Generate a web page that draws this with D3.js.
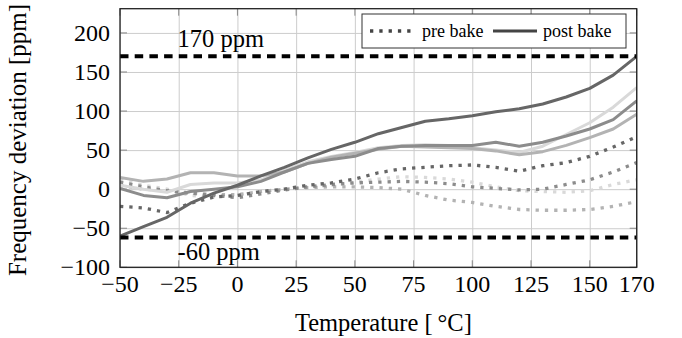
<!DOCTYPE html>
<html lang="en">
<head>
    <meta charset="utf-8">
    <script type="text/javascript" src="https://d3js.org/d3.v7.min.js"></script>
    <style>
        body { margin: 0; background: #fff; }
        text { font-family: "Liberation Serif", "DejaVu Serif", serif; }
    </style>
</head>

<body>
    <script type="text/javascript">
        let w = 682;
        let h = 338;

        // temperatures in degC
        let temps = [-50, -40, -30, -20, -10, 0, 10, 20, 30, 40, 50, 60, 70, 80, 90, 100, 110, 120, 130, 140, 150, 160, 170];

        // post bake, one array per device
        let post1 = [-60, -48, -36, -18, -5, 5, 17, 28, 40, 51, 60, 71, 79, 87, 90, 94, 99, 103, 109, 118, 129, 146, 170];
        let post2 = [1, -8, -11, -3, 0, 3, 10, 22, 33, 38, 42, 52, 55, 56, 56, 56, 60, 55, 60, 68, 77, 89, 113];
        let post3 = [15, 10, 13, 21, 21, 17, 17, 22, 33, 41, 46, 51, 55, 54, 53, 52, 49, 44, 48, 56, 66, 77, 96];
        let post4 = [5, 0, -4, 6, 8, 8, 12, 24, 35, 42, 47, 53, 56, 57, 56, 53, 50, 47, 55, 70, 85, 105, 130];

        // pre bake, one array per device
        let pre1 = [-22, -24, -30, -18, -10, -8, -3, 0, 5, 8, 13, 21, 26, 28, 30, 31, 28, 23, 30, 34, 42, 54, 67];
        let pre2 = [9, 3, -2, -5, -8, -11, -6, -1, 3, 6, 8, 9, 10, 9, 7, 3, 1, -1, 0, 6, 12, 22, 34];
        let pre3 = [5, 0, -2, -5, -7, -7, -3, 0, 2, 3, 3, 2, 0, -8, -14, -17, -22, -26, -27, -27, -26, -22, -16];
        let pre4 = [12, 5, 0, -8, -10, -8, -4, 0, 3, 5, 9, 13, 16, 15, 13, 9, 3, -2, -3, -4, -2, 6, 12];

        let xTicks = [-50, -25, 0, 25, 50, 75, 100, 125, 150, 170];
        let yTicks = [-100, -50, 0, 50, 100, 150, 200];
        let limits = [170, -62];
        let limitLabels = ["170 ppm", "-60 ppm"];

        let greys = ["#666666", "#8c8c8c", "#b3b3b3", "#d9d9d9"];

        let pLeft = 120, pRight = 636.7, pTop = 8.7, pBottom = 267.3;

        let x = d3.scaleLinear().domain([-50, 170]).range([pLeft, pRight]);
        let y = d3.scaleLinear().domain([-100, 231]).range([pBottom, pTop]);

        let svg = d3.select("body").append("svg")
            .attr("width", w)
            .attr("height", h);

        svg.append("defs").append("clipPath").attr("id", "clip")
            .append("rect")
            .attr("x", pLeft).attr("y", pTop)
            .attr("width", pRight - pLeft).attr("height", pBottom - pTop);

        // grid
        svg.append("g")
            .attr("transform", "translate(0," + pBottom + ")")
            .call(d3.axisBottom(x).tickValues(xTicks).tickSize(-(pBottom - pTop)).tickFormat(""))
            .call(g => g.select(".domain").remove())
            .selectAll("line").attr("stroke", "#cccccc").attr("stroke-width", 1);
        svg.append("g")
            .attr("transform", "translate(" + pLeft + ",0)")
            .call(d3.axisLeft(y).tickValues(yTicks).tickSize(-(pRight - pLeft)).tickFormat(""))
            .call(g => g.select(".domain").remove())
            .selectAll("line").attr("stroke", "#cccccc").attr("stroke-width", 1);

        // inner tick marks on all four sides
        let tk = 7;
        let ticks = svg.append("g").attr("stroke", "#888888").attr("stroke-width", 1);
        xTicks.forEach(function (t) {
            ticks.append("line").attr("x1", x(t)).attr("x2", x(t)).attr("y1", pBottom).attr("y2", pBottom - tk);
            ticks.append("line").attr("x1", x(t)).attr("x2", x(t)).attr("y1", pTop).attr("y2", pTop + tk);
        });
        yTicks.forEach(function (t) {
            ticks.append("line").attr("x1", pLeft).attr("x2", pLeft + tk).attr("y1", y(t)).attr("y2", y(t));
            ticks.append("line").attr("x1", pRight).attr("x2", pRight - tk).attr("y1", y(t)).attr("y2", y(t));
        });

        let plot = svg.append("g").attr("clip-path", "url(#clip)");

        let line = d3.line()
            .x(function (d, i) { return x(temps[i]); })
            .y(function (d) { return y(d); });

        let preSeries = [pre4, pre3, pre2, pre1];
        let postSeries = [post4, post3, post2, post1];
        let order = [3, 2, 1, 0];

        preSeries.forEach(function (s, k) {
            plot.append("path")
                .attr("d", line(s))
                .attr("fill", "none")
                .attr("stroke", greys[order[k]])
                .attr("stroke-width", 3.3)
                .attr("stroke-dasharray", "3.3,6");
        });
        postSeries.forEach(function (s, k) {
            plot.append("path")
                .attr("d", line(s))
                .attr("fill", "none")
                .attr("stroke", greys[order[k]])
                .attr("stroke-width", 3)
                .attr("stroke-linejoin", "round");
        });

        // limit lines
        limits.forEach(function (v) {
            plot.append("line")
                .attr("x1", pLeft).attr("x2", pRight)
                .attr("y1", y(v)).attr("y2", y(v))
                .attr("stroke", "#000")
                .attr("stroke-width", 4)
                .attr("stroke-dasharray", "8.5,6.2");
        });
        svg.append("text").attr("x", x(-25.5)).attr("y", y(limits[0]) - 9)
            .attr("font-size", 24.5).text(limitLabels[0]);
        svg.append("text").attr("x", x(-25.5)).attr("y", y(limits[1]) + 22)
            .attr("font-size", 24.5).text(limitLabels[1]);

        // frame
        svg.append("rect")
            .attr("x", pLeft).attr("y", pTop)
            .attr("width", pRight - pLeft).attr("height", pBottom - pTop)
            .attr("fill", "none").attr("stroke", "#222").attr("stroke-width", 1.3);

        // tick labels
        svg.selectAll(".xl").data(xTicks).join("text")
            .attr("class", "xl")
            .attr("x", function (d) { return x(d); })
            .attr("y", 292)
            .attr("text-anchor", "middle")
            .attr("font-size", 24)
            .text(function (d) { return d < 0 ? "\u2212" + (-d) : d; });
        svg.selectAll(".yl").data(yTicks).join("text")
            .attr("class", "yl")
            .attr("x", 110)
            .attr("y", function (d) { return y(d) + 8; })
            .attr("text-anchor", "end")
            .attr("font-size", 24)
            .text(function (d) { return d < 0 ? "\u2212" + (-d) : d; });

        // axis titles
        svg.append("text")
            .attr("x", (pLeft + pRight) / 2 + 5).attr("y", 331)
            .attr("text-anchor", "middle").attr("font-size", 24.5)
            .text("Temperature [\u2009\u00b0C]");
        svg.append("text")
            .attr("transform", "translate(26," + ((pTop + pBottom) / 2 + 2) + ") rotate(-90)")
            .attr("text-anchor", "middle").attr("font-size", 25)
            .text("Frequency deviation [ppm]");

        // legend
        let lg = svg.append("g");
        lg.append("rect")
            .attr("x", 362).attr("y", 14).attr("width", 264).attr("height", 34)
            .attr("fill", "#fff").attr("stroke", "#333").attr("stroke-width", 1);
        lg.append("line")
            .attr("x1", 370).attr("x2", 414).attr("y1", 31).attr("y2", 31)
            .attr("stroke", "#444").attr("stroke-width", 3.3).attr("stroke-dasharray", "3.3,6");
        lg.append("text").attr("x", 422).attr("y", 37).attr("font-size", 18).text("pre bake");
        lg.append("line")
            .attr("x1", 493).attr("x2", 537).attr("y1", 31).attr("y2", 31)
            .attr("stroke", "#444").attr("stroke-width", 3);
        lg.append("text").attr("x", 543).attr("y", 37).attr("font-size", 18).text("post bake");
    </script>
</body>
</html>
